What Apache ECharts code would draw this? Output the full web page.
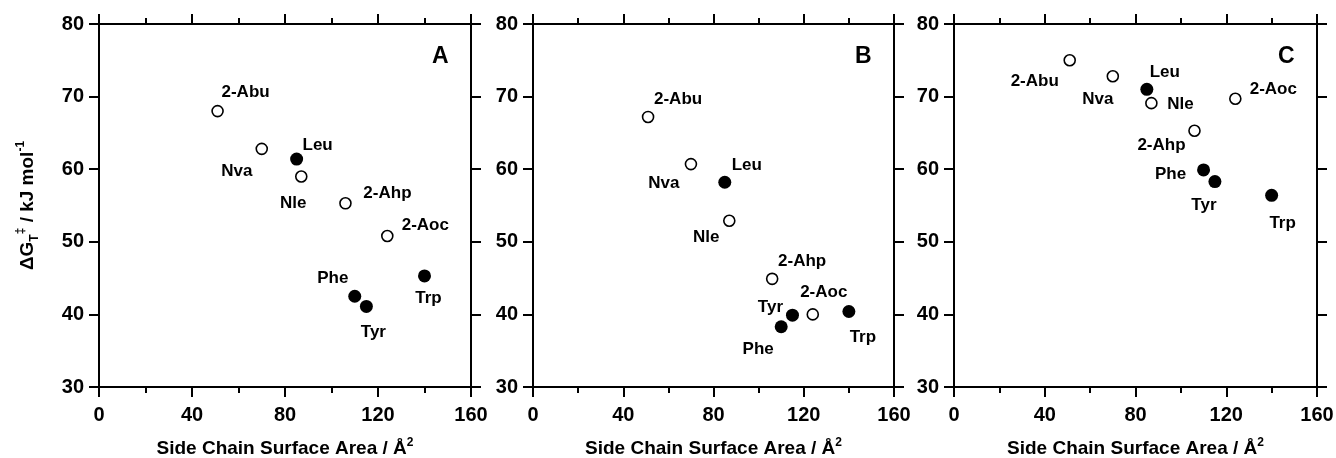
<!DOCTYPE html>
<html>
<head>
<meta charset="utf-8">
<script src="https://cdn.jsdelivr.net/npm/echarts@6/dist/echarts.min.js"></script>
<style>
  html, body { margin: 0; padding: 0; background: #fff; }
  #chart { width: 1336px; height: 458px; }
</style>
</head>
<body>
<div id="chart"></div>
<script>
// 数据：氨基酸侧链面积 / ΔG
const residues = ['2-Abu', 'Nva', 'Leu', 'Nle', '2-Ahp', 'Phe', 'Tyr', '2-Aoc', 'Trp']
const surfaceArea = [51, 70, 85, 87, 106, 110, 115, 124, 140]
const natural = [false, false, true, false, false, true, true, false, true]
const dGA = [68.0, 62.8, 61.4, 59.0, 55.3, 42.5, 41.1, 50.8, 45.3]
const dGB = [67.2, 60.7, 58.2, 52.9, 44.9, 38.3, 39.9, 40.0, 40.4]
const dGC = [75.0, 72.8, 71.0, 69.1, 65.3, 59.9, 58.3, 69.7, 56.4]
const panelNames = ['A', 'B', 'C']
const xTicks = [0, 40, 80, 120, 160]
const yTicks = [30, 40, 50, 60, 70, 80]

// 标签偏移（像素）
const offsA = [[28, -19], [-25, 22], [21, -14], [-8, 27], [42, -10], [-22, -18], [7, 26], [38, -11], [4, 22]]
const offsB = [[30, -18], [-27, 19], [22, -17], [-23, 17], [30, -18], [-23, 23], [-22, -8], [11, -22], [14, 26]]
const offsC = [[-35, 21], [-15, 23], [18, -17], [29, 1], [-33, 15], [-33, 4], [-11, 24], [38, -9], [11, 28]]

const font = 'Liberation Sans, Arial, sans-serif'
const grids = [
  { left: 99, top: 24, width: 372, height: 363, outerBoundsMode: 'none' },
  { left: 533, top: 24, width: 361, height: 363, outerBoundsMode: 'none' },
  { left: 954, top: 24, width: 363, height: 363, outerBoundsMode: 'none' }
]

const axisLine = { show: true, onZero: false, lineStyle: { color: '#000', width: 2 } }
const axisTick = { show: true, inside: false, length: 10, lineStyle: { color: '#000', width: 2 } }
const minorTick = { show: true, splitNumber: 2, length: 6, lineStyle: { color: '#000', width: 2 } }

const xAxes = []
const yAxes = []
const series = []
const titles = []

;[dGA, dGB, dGC].forEach((vals, i) => {
  const offs = [offsA, offsB, offsC][i]
  // 底部 x 轴
  xAxes.push({
    gridIndex: i, type: 'value', position: 'bottom',
    min: xTicks[0], max: xTicks[xTicks.length - 1], interval: 40,
    axisLine, axisTick, minorTick,
    splitLine: { show: false },
    axisLabel: { color: '#000', fontSize: 20, fontWeight: 'bold', fontFamily: font, margin: 18 },
    name: '{t|Side Chain Surface Area / Å}{s|2}',
    nameLocation: 'middle', nameGap: 50,
    nameTextStyle: {
      rich: {
        t: { fontSize: 19, fontWeight: 'bold', fontFamily: font, color: '#000', lineHeight: 24 },
        s: { fontSize: 12, fontWeight: 'bold', fontFamily: font, color: '#000', verticalAlign: 'top', lineHeight: 14 }
      }
    }
  })
  // 顶部 x 轴（仅刻度）
  xAxes.push({
    gridIndex: i, type: 'value', position: 'top',
    min: 0, max: 160, interval: 40,
    axisLine, axisTick, minorTick,
    splitLine: { show: false },
    axisLabel: { show: false }
  })
  // 左侧 y 轴
  const yLeft = {
    gridIndex: i, type: 'value', position: 'left',
    min: yTicks[0], max: yTicks[yTicks.length - 1], interval: 10,
    axisLine, axisTick,
    splitLine: { show: false },
    axisLabel: { color: '#000', fontSize: 20, fontWeight: 'bold', fontFamily: font, margin: 15 }
  }
  if (i === 0) {
    yLeft.name = '{d|ΔG}{b|T}{p|‡}{d| / kJ mol}{p|-1}'
    yLeft.nameLocation = 'middle'
    yLeft.nameGap = 58
    yLeft.nameTextStyle = {
      rich: {
        d: { fontSize: 19, fontWeight: 'bold', fontFamily: font, color: '#000', lineHeight: 26 },
        b: { fontSize: 12, fontWeight: 'bold', fontFamily: font, color: '#000', verticalAlign: 'bottom', lineHeight: 12 },
        p: { fontSize: 12, fontWeight: 'bold', fontFamily: font, color: '#000', verticalAlign: 'top', lineHeight: 12 }
      }
    }
  }
  yAxes.push(yLeft)
  // 右侧 y 轴（仅刻度）
  yAxes.push({
    gridIndex: i, type: 'value', position: 'right',
    min: 30, max: 80, interval: 10,
    axisLine, axisTick,
    splitLine: { show: false },
    axisLabel: { show: false }
  })

  const makeData = flag => residues
    .map((name, k) => ({ k, name }))
    .filter(o => natural[o.k] === flag)
    .map(o => ({
      name: o.name,
      value: [surfaceArea[o.k], vals[o.k]],
      label: { offset: offs[o.k] }
    }))

  const label = {
    show: true, position: 'inside', formatter: '{b}',
    color: '#000', fontSize: 17, fontWeight: 'bold', fontFamily: font,
    textBorderWidth: 0
  }
  // 空心圆
  series.push({
    type: 'scatter', xAxisIndex: i * 2, yAxisIndex: i * 2,
    symbol: 'circle', symbolSize: 11,
    itemStyle: { color: '#fff', borderColor: '#000', borderWidth: 1.6, opacity: 1 },
    label, emphasis: { disabled: true },
    data: makeData(false)
  })
  // 实心圆
  series.push({
    type: 'scatter', xAxisIndex: i * 2, yAxisIndex: i * 2,
    symbol: 'circle', symbolSize: 13,
    itemStyle: { color: '#000', borderColor: '#000', borderWidth: 0, opacity: 1 },
    label, emphasis: { disabled: true },
    data: makeData(true)
  })

  // 面板字母
  titles.push({
    text: panelNames[i],
    left: grids[i].left + grids[i].width - 44,
    top: 40,
    textStyle: { fontSize: 23, fontWeight: 'bold', fontFamily: font, color: '#000' }
  })
})

const myChart = echarts.init(document.querySelector('#chart'))
const option = {
  animation: false,
  backgroundColor: '#fff',
  title: titles,
  grid: grids,
  xAxis: xAxes,
  yAxis: yAxes,
  series
}
myChart.setOption(option)
</script>
</body>
</html>
